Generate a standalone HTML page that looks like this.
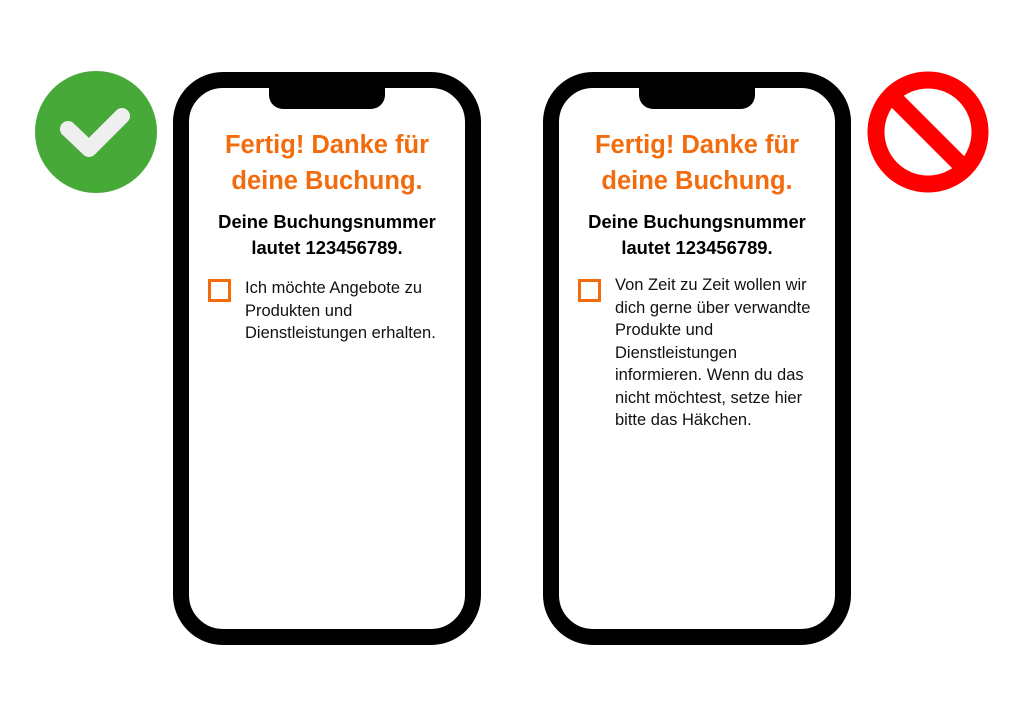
<!DOCTYPE html>
<html><head><meta charset="utf-8"><style>
body{margin:0;width:1024px;height:717px;background:#fff;position:relative;overflow:hidden;font-family:"Liberation Sans",Arial,sans-serif}
.ph{position:absolute;top:72px;width:276px;height:541px;border:16px solid #000;border-radius:50px;background:#fff}
.notch{position:absolute;top:-2px;left:80px;width:116px;height:23px;background:#000;border-radius:0 0 14px 14px}
.t{position:absolute;left:-10px;width:296px;text-align:center;color:#f26c0d;font-weight:bold;font-size:25.5px;line-height:36px;top:39px}
.s{position:absolute;left:-10px;width:296px;text-align:center;color:#000;font-weight:bold;font-size:18.4px;line-height:26px;top:121px}
.cb{position:absolute;left:19px;top:191px;width:17px;height:17px;border:3px solid #f26c0d}
.x{position:absolute;left:56px;top:190px;font-size:16.5px;line-height:22.5px;color:#111;width:240px}
</style></head><body>
<svg style="position:absolute;left:0;top:0" width="1024" height="717">
<circle cx="96" cy="132" r="61" fill="#46a938"/>
<polyline points="68,129 89,149 122,116" fill="none" stroke="#efefef" stroke-width="16" stroke-linecap="round" stroke-linejoin="round"/>
<circle cx="928" cy="132" r="52" fill="none" stroke="#fe0000" stroke-width="17"/>
<line x1="893" y1="97" x2="963" y2="167" stroke="#fe0000" stroke-width="17"/>
</svg>
<div class="ph" style="left:173px"><div class="notch"></div>
<div class="t">Fertig! Danke für<br>deine Buchung.</div>
<div class="s">Deine Buchungsnummer<br>lautet 123456789.</div>
<div class="cb"></div>
<div class="x" style="top:189px">Ich möchte Angebote zu<br>Produkten und<br>Dienstleistungen erhalten.</div></div>
<div class="ph" style="left:543px"><div class="notch"></div>
<div class="t">Fertig! Danke für<br>deine Buchung.</div>
<div class="s">Deine Buchungsnummer<br>lautet 123456789.</div>
<div class="cb"></div>
<div class="x" style="top:186px">Von Zeit zu Zeit wollen wir<br>dich gerne über verwandte<br>Produkte und<br>Dienstleistungen<br>informieren. Wenn du das<br>nicht möchtest, setze hier<br>bitte das Häkchen.</div></div>
</body></html>
